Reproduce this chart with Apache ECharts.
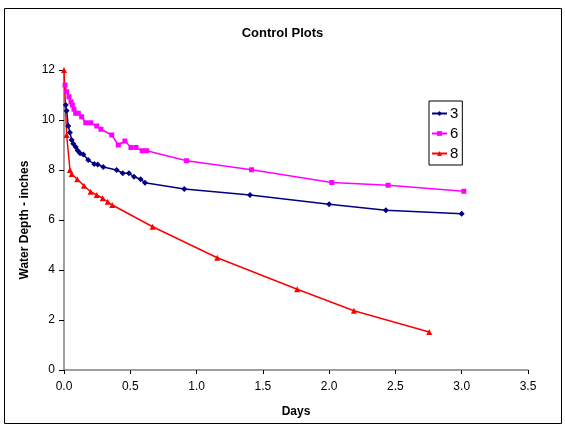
<!DOCTYPE html>
<html>
<head>
<meta charset="utf-8">
<script src="https://cdn.jsdelivr.net/npm/echarts@6/dist/echarts.min.js"></script>
<style>
  html, body { margin: 0; padding: 0; background: #fff; }
  #chart { width: 565px; height: 426px; }
</style>
</head>
<body>
<div id="chart"></div>
<script>
// days / water depth (inches)
var days3 = [0.013, 0.02, 0.032, 0.045, 0.058, 0.07, 0.088, 0.103, 0.121, 0.146, 0.183, 0.228, 0.254, 0.296, 0.397, 0.443, 0.49, 0.528, 0.578, 0.611, 0.907, 1.403, 2.0, 2.428, 3.0];
var depth3 = [10.6, 10.37, 9.76, 9.5, 9.2, 9.05, 8.92, 8.78, 8.67, 8.62, 8.4, 8.24, 8.22, 8.12, 8.0, 7.87, 7.87, 7.73, 7.63, 7.49, 7.24, 7.0, 6.63, 6.39, 6.25];

var days6 = [0.008, 0.02, 0.038, 0.053, 0.063, 0.075, 0.088, 0.108, 0.133, 0.164, 0.201, 0.247, 0.279, 0.36, 0.41, 0.46, 0.505, 0.543, 0.59, 0.624, 0.925, 1.415, 2.02, 2.445, 3.016];
var depth6 = [11.4, 11.13, 10.93, 10.73, 10.6, 10.43, 10.27, 10.27, 10.13, 9.89, 9.89, 9.76, 9.63, 9.4, 9.0, 9.16, 8.9, 8.9, 8.77, 8.77, 8.37, 8.01, 7.5, 7.39, 7.15];

var days8 = [0, 0.02, 0.045, 0.058, 0.1, 0.151, 0.201, 0.247, 0.292, 0.33, 0.364, 0.669, 1.156, 1.759, 2.187, 2.755];
var depth8 = [12.0, 9.4, 8.0, 7.84, 7.63, 7.37, 7.13, 7.0, 6.87, 6.73, 6.6, 5.73, 4.49, 3.23, 2.37, 1.52];

var seriesNames = ['3', '6', '8'];
var xTicks = { min: 0, max: 3.5, step: 0.5 };
var yTicks = { min: 0, max: 12, step: 2 };

function pairs(xs, ys) {
    var out = [];
    for (var i = 0; i < xs.length; i++) out.push([xs[i], ys[i]]);
    return out;
}

var myChart = echarts.init(document.getElementById('chart'));
var font = 'Liberation Sans, Arial, sans-serif';
var option = {
    backgroundColor: '#fff',
    animation: false,
    title: {
        text: 'Control Plots',
        left: 'center',
        top: 22,
        textStyle: { fontFamily: font, fontSize: 13, fontWeight: 'bold', color: '#000' }
    },
    legend: {
        orient: 'vertical',
        left: 429,
        top: 101,
        itemWidth: 15,
        itemHeight: 6,
        itemGap: 5,
        padding: [5, 4, 4, 2],
        borderColor: '#000',
        borderWidth: 1,
        textStyle: { fontFamily: font, fontSize: 15, color: '#000', padding: [0, 0, 0, -2] },
        data: seriesNames
    },
    grid: { left: 64, right: 37, top: 70, bottom: 56 },
    xAxis: {
        type: 'value',
        min: xTicks.min,
        max: xTicks.max,
        interval: xTicks.step,
        name: 'Days',
        nameLocation: 'middle',
        nameGap: 36,
        nameTextStyle: { fontFamily: font, fontSize: 12, fontWeight: 'bold', color: '#000' },
        axisLine: { lineStyle: { color: '#808080', width: 1.5 } },
        axisTick: { show: true, length: 4, lineStyle: { color: '#000' } },
        axisLabel: {
            fontFamily: font, fontSize: 12, color: '#000', margin: 11,
            formatter: function (v) { return v.toFixed(1); }
        },
        splitLine: { show: false }
    },
    yAxis: {
        type: 'value',
        min: yTicks.min,
        max: yTicks.max,
        interval: yTicks.step,
        name: 'Water Depth - inches',
        nameLocation: 'middle',
        nameGap: 28,
        nameRotate: 90,
        nameTextStyle: { fontFamily: font, fontSize: 12, fontWeight: 'bold', color: '#000' },
        axisLine: { show: true, lineStyle: { color: '#808080', width: 1.5 } },
        axisTick: { show: true, length: 5, lineStyle: { color: '#000' } },
        axisLabel: { fontFamily: font, fontSize: 12, color: '#000', margin: 9 },
        splitLine: { show: false }
    },
    graphic: [{
        type: 'rect',
        shape: { x: 4.5, y: 8.5, width: 557, height: 415 },
        style: { fill: 'none', stroke: '#000', lineWidth: 1 },
        silent: true
    }],
    series: [
        {
            name: seriesNames[0],
            type: 'line',
            data: pairs(days3, depth3),
            symbol: 'diamond',
            symbolSize: 6,
            itemStyle: { color: '#000080' },
            lineStyle: { color: '#000080', width: 1.5 }
        },
        {
            name: seriesNames[1],
            type: 'line',
            data: pairs(days6, depth6),
            symbol: 'rect',
            symbolSize: 5,
            itemStyle: { color: '#FF00FF' },
            lineStyle: { color: '#FF00FF', width: 1.5 }
        },
        {
            name: seriesNames[2],
            type: 'line',
            data: pairs(days8, depth8),
            symbol: 'triangle',
            symbolSize: 6,
            itemStyle: { color: '#FF0000' },
            lineStyle: { color: '#FF0000', width: 1.5 }
        }
    ]
};
myChart.setOption(option);
</script>
</body>
</html>
